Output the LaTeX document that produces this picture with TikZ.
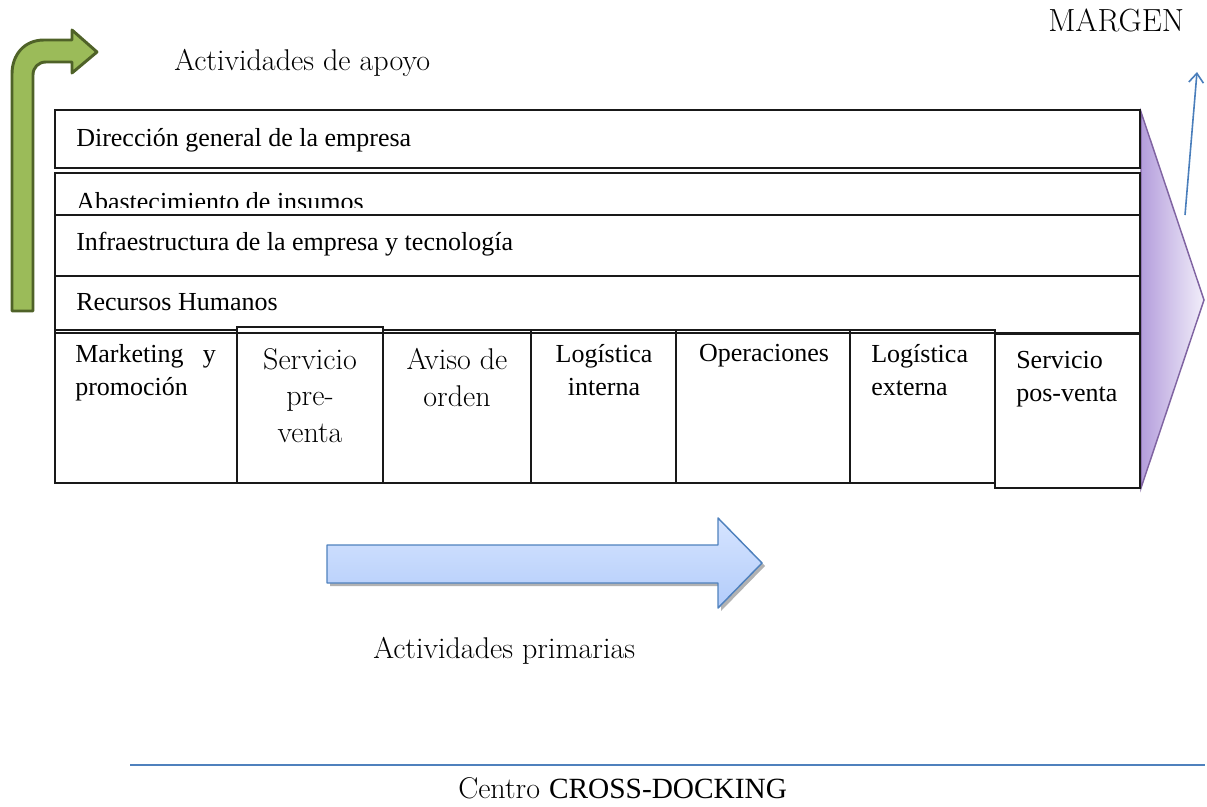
\documentclass[tikz,border=0pt]{standalone}
\usepackage{fontspec}
\usepackage{xcolor}
\usepackage{tikz}
\usetikzlibrary{arrows.meta}
\newfontfamily\timesfont{Liberation Serif}

\begin{document}
\begin{tikzpicture}[x=0.75pt,y=0.75pt,yscale=-1,xscale=1,
    cell/.style={draw={rgb, 255:red, 25; green, 25; blue, 25 },line width=0.9pt},
    tnr/.style={inner sep=0.75pt,font=\timesfont\fontsize{19.5}{24.75}\selectfont},
    gara/.style={inner sep=0.75pt,font=\fontsize{22.5}{27.5}\selectfont}]
            \path[use as bounding box] (0,0) rectangle (1207,807); %set diagram to the size of the reference

            %Shape: Triangle (margen)
            \draw [draw={rgb, 255:red, 128; green, 100; blue, 162 },line width=1.1pt,left color={rgb, 255:red, 180; green, 158; blue, 220 },right color={rgb, 255:red, 242; green, 238; blue, 250 }]  (1141,112) -- (1204,300) -- (1141,488) -- cycle ;
            %Straight Lines (margen)
            \draw [color={rgb, 255:red, 74; green, 126; blue, 187 },line width=1.2pt,-{Straight Barb[length=7pt,width=11pt]}]   (1185,215) -- (1197,72) ;

            %Shape: Bent Arrow (apoyo)
            \draw [draw={rgb, 255:red, 79; green, 98; blue, 40 },line width=2.2pt,line join=round,fill={rgb, 255:red, 155; green, 187; blue, 89 }]  (12,311) -- (12,74) .. controls (12,55) and (24,40) .. (44,40) -- (72,40) -- (72,30) -- (97,52) -- (72,73) -- (72,62) -- (46,62) .. controls (38.4,62) and (33,67.4) .. (33,75) -- (33,311) -- cycle ;

            %Shape: Rectangle
            \draw [cell]  (55,110) rectangle (1140,168) ;
            %Shape: Rectangle
            \draw [cell]  (55,173) rectangle (1140,215) ;
            %Shape: Rectangle
            \draw [cell]  (55,215) rectangle (1140,276) ;
            %Shape: Rectangle
            \draw [cell]  (55,276) rectangle (1140,333) ;
            %Shape: Rectangle
            \draw [cell]  (55,330) rectangle (237,483) ;
            %Shape: Rectangle
            \draw [cell]  (237,327) rectangle (383,483) ;
            %Shape: Rectangle
            \draw [cell]  (383,330) rectangle (531,483) ;
            %Shape: Rectangle
            \draw [cell]  (531,330) rectangle (676,483) ;
            %Shape: Rectangle
            \draw [cell]  (676,330) rectangle (850,483) ;
            %Shape: Rectangle
            \draw [cell]  (850,330) rectangle (995,483) ;
            %Shape: Rectangle
            \draw [cell,fill=white]  (995,334) rectangle (1140,488) ;

            %Shape: Right Arrow (primarias)
            \fill [black,fill opacity=0.3]  (330,548) -- (721,548) -- (721,521) -- (765,566) -- (721,611) -- (721,586) -- (330,586) -- cycle ;
            \draw [draw={rgb, 255:red, 79; green, 129; blue, 189 },line width=1.1pt,line join=round,top color={rgb, 255:red, 214; green, 228; blue, 255 },bottom color={rgb, 255:red, 178; green, 204; blue, 250 }]  (327,545) -- (718,545) -- (718,518) -- (762,563) -- (718,608) -- (718,583) -- (327,583) -- cycle ;

            %Straight Lines
            \draw [color={rgb, 255:red, 79; green, 129; blue, 189 },line width=1.1pt]   (130,765) -- (1205,765) ;

            % Text Node
            \node (apoyo) [gara,anchor=base west] at (173,70) {Actividades de apoyo};
            % Text Node
            \node (margen) [gara,anchor=base west,font=\fontsize{24}{28}\selectfont] at (1047,31) {MARGEN};
            % Text Node
            \node (direccion) [tnr,anchor=base west] at (75,146) {Dirección general de la empresa};
            % Text Node (cut off by the next row)
            \begin{scope}
              \clip (56,174) rectangle (1139,207);
              \node (abasto) [tnr,anchor=base west] at (75,210) {Abastecimiento de insumos};
            \end{scope}
            % Text Node
            \node (infra) [tnr,anchor=base west] at (75,250) {Infraestructura de la empresa y tecnología};
            % Text Node
            \node (rrhh) [tnr,anchor=base west] at (75,310) {Recursos Humanos};
            % Text Node
            \node (marketing) [tnr,anchor=north west,align=left] at (74,343) {Marketing\hspace{14.5pt}y\\promoción};
            % Text Node
            \node (preventa) [gara,anchor=north,align=center] at (310,347) {Servicio\\pre-\\venta};
            % Text Node
            \node (aviso) [gara,anchor=north,align=center] at (457,347) {Aviso de\\orden};
            % Text Node
            \node (interna) [tnr,anchor=north,align=center] at (604,343) {Logística\\interna};
            % Text Node
            \node (operaciones) [tnr,anchor=north] at (764,343) {Operaciones};
            % Text Node
            \node (externa) [tnr,anchor=north west,align=left] at (870,343) {Logística\\externa};
            % Text Node
            \node (posventa) [tnr,anchor=north west,align=left] at (1015,350) {Servicio\\pos-venta};
            % Text Node
            \node (primarias) [gara,anchor=base west] at (372,658) {Actividades primarias};
            % Text Node
            \node (centro) [gara,anchor=base west] at (457,798) {Centro {\timesfont\fontsize{22}{27}\selectfont CROSS-DOCKING}};
\end{tikzpicture}
\end{document}
